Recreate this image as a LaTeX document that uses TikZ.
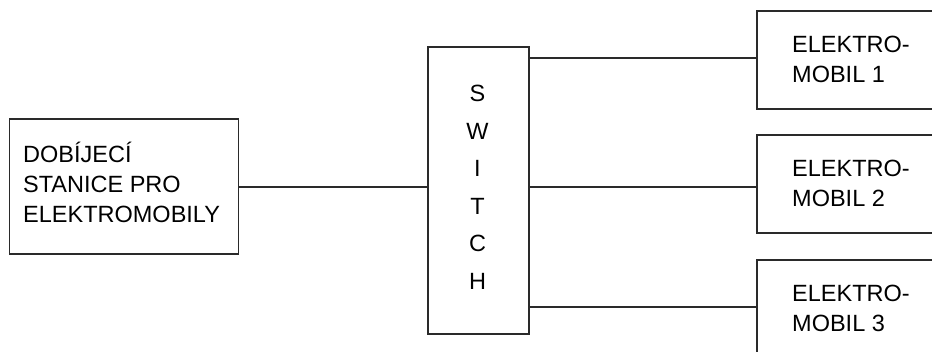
\documentclass[tikz,border=0pt]{standalone}
\usepackage{fontspec}
\setmainfont{Liberation Sans}
\definecolor{linegray}{HTML}{2A2A2A}
\begin{document}
\begin{tikzpicture}[x=1pt,y=-1pt,
  box/.style={draw=linegray, line width=1.6pt, fill=white, rectangle,
    inner sep=0pt, anchor=north west},
  wire/.style={draw=linegray, line width=1.6pt},
  txt/.style={anchor=base west, inner sep=0pt, font=\fontsize{23.5}{28}\selectfont},
  letter/.style={anchor=base, inner sep=0pt, font=\fontsize{23.5}{28}\selectfont},
]
\useasboundingbox (0,0) rectangle (932,352);

% boxes
\node[box, minimum width=229pt, minimum height=135pt] (dock) at (8.5,118) {};
\node[box, minimum width=101pt, minimum height=287pt] (sw) at (427,46) {};
\node[box, minimum width=189pt, minimum height=98pt] (ev1) at (756,10) {};
\node[box, minimum width=189pt, minimum height=98pt] (ev2) at (756,134) {};
\node[box, minimum width=189pt, minimum height=98pt] (ev3) at (756,259) {};

% charging station label
\node[txt] (d1) at (23,163) {DOBÍJECÍ};
\node[txt] (d2) at (23,193) {STANICE PRO};
\node[txt] (d3) at (23,223) {ELEKTROMOBILY};

% vertical switch label
\foreach \ch [count=\i] in {S,W,I,T,C,H}
  \node[letter] (sw\i) at (477.5,{102+37.5*(\i-1)}) {\ch};

% vehicle labels
\node[txt] (e1a) at (792,53) {ELEKTRO-};
\node[txt] (e1b) at (792,83) {MOBIL 1};
\node[txt] (e2a) at (792,177) {ELEKTRO-};
\node[txt] (e2b) at (792,207) {MOBIL 2};
\node[txt] (e3a) at (792,302) {ELEKTRO-};
\node[txt] (e3b) at (792,332) {MOBIL 3};

% connection points on the switch
\coordinate (in) at (427,187);
\coordinate (o1) at (528,58);
\coordinate (o2) at (528,187);
\coordinate (o3) at (528,307);

% wires
\draw[wire] (in -| dock.east) -- (in);
\draw[wire] (o1) -- (o1 -| ev1.west);
\draw[wire] (o2) -- (o2 -| ev2.west);
\draw[wire] (o3) -- (o3 -| ev3.west);
\end{tikzpicture}
\end{document}
